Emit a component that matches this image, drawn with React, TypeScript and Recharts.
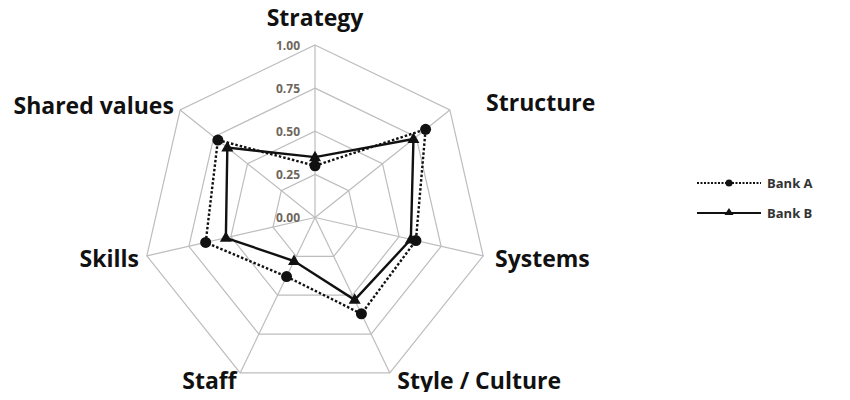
import React from "react";
import { RadarChart, Radar, PolarGrid, PolarAngleAxis, PolarRadiusAxis, Legend } from "recharts";

const categories = ["Strategy", "Structure", "Systems", "Style / Culture", "Staff", "Skills", "Shared values"];
const bankA = [0.3, 0.82, 0.6, 0.62, 0.38, 0.65, 0.72];
const bankB = [0.35, 0.73, 0.57, 0.53, 0.28, 0.53, 0.65];
const radiusTicks = [0, 0.25, 0.5, 0.75, 1];

const data = categories.map((name, i) => ({ name, a: bankA[i], b: bankB[i] }));

// nudges for labels that sit further out than the default tick gap
const labelNudge: Record<string, [number, number]> = {
  Strategy: [0, -20],
  Structure: [30, -3],
  Systems: [4, 0],
  "Style / Culture": [4, 0],
};

function AngleTick(props: any) {
  const { x, y, textAnchor, payload } = props;
  const [dx, dy] = labelNudge[payload.value] || [0, 0];
  return (
    <text x={x + dx} y={y + dy} textAnchor={textAnchor} dominantBaseline="central"
      fontFamily="'Open Sans', sans-serif" fontWeight={700} fontSize={23} fill="#111">
      {payload.value}
    </text>
  );
}

function RadiusTick(props: any) {
  const { x, y, payload } = props;
  return (
    <text x={x - 15} y={y} textAnchor="end" dominantBaseline="central"
      fontFamily="'Open Sans', sans-serif" fontWeight={700} fontSize={12} fill="#6e665c">
      {payload.value.toFixed(2)}
    </text>
  );
}

function Circle(props: any) {
  const { cx, cy } = props;
  if (cx == null || cy == null) return null;
  return <circle cx={cx} cy={cy} r={5.5} fill="#111" stroke="none" />;
}

function Triangle(props: any) {
  const { cx, cy } = props;
  if (cx == null || cy == null) return null;
  return <path d={`M${cx},${cy - 6.5} L${cx + 6},${cy + 4} L${cx - 6},${cy + 4} Z`} fill="#111" stroke="none" />;
}

function LegendContent(props: any) {
  const { payload } = props;
  return (
    <div>
      {payload.map((entry: any) => {
        const dotted = entry.value === "Bank A";
        return (
          <div key={entry.value} style={{ display: "flex", alignItems: "center", height: 30 }}>
            <svg width={68} height={14}>
              <line x1={2} y1={7} x2={66} y2={7} stroke="#111" strokeWidth={2.2}
                strokeDasharray={dotted ? "2 1.5" : undefined} />
              {dotted ? (
                <circle cx={34} cy={7} r={3.5} fill="#111" />
              ) : (
                <path d="M34,2 L38.5,9 L29.5,9 Z" fill="#111" />
              )}
            </svg>
            <span style={{ marginLeft: 4, fontFamily: "'Open Sans', sans-serif", fontWeight: 700,
              fontSize: 13, color: "#333" }}>{entry.value}</span>
          </div>
        );
      })}
    </div>
  );
}

export default function App() {
  return (
    <div style={{ margin: -8, width: 850, height: 400, background: "#fff" }}>
      <RadarChart width={850} height={400} data={data} cx={315} cy={217.5} outerRadius={172.5}
        margin={{ top: 0, right: 0, bottom: 0, left: 0 }}>
        <PolarGrid gridType="polygon" stroke="#bdbdbd" strokeWidth={1.2} />
        <PolarAngleAxis dataKey="name" tick={<AngleTick />} tickLine={false} axisLine={false} />
        <PolarRadiusAxis angle={90} domain={[0, 1]} ticks={radiusTicks} tick={<RadiusTick />}
          axisLine={false} tickLine={false} />
        <Radar name="Bank A" dataKey="a" stroke="#111" strokeWidth={2.4} strokeDasharray="2.5 2"
          fill="none" fillOpacity={0} dot={<Circle />} isAnimationActive={false} />
        <Radar name="Bank B" dataKey="b" stroke="#111" strokeWidth={2.4} fill="none" fillOpacity={0}
          dot={<Triangle />} isAnimationActive={false} />
        <Legend layout="vertical" content={<LegendContent />}
          wrapperStyle={{ position: "absolute", left: 695, top: 168, width: 150 }} />
      </RadarChart>
    </div>
  );
}
